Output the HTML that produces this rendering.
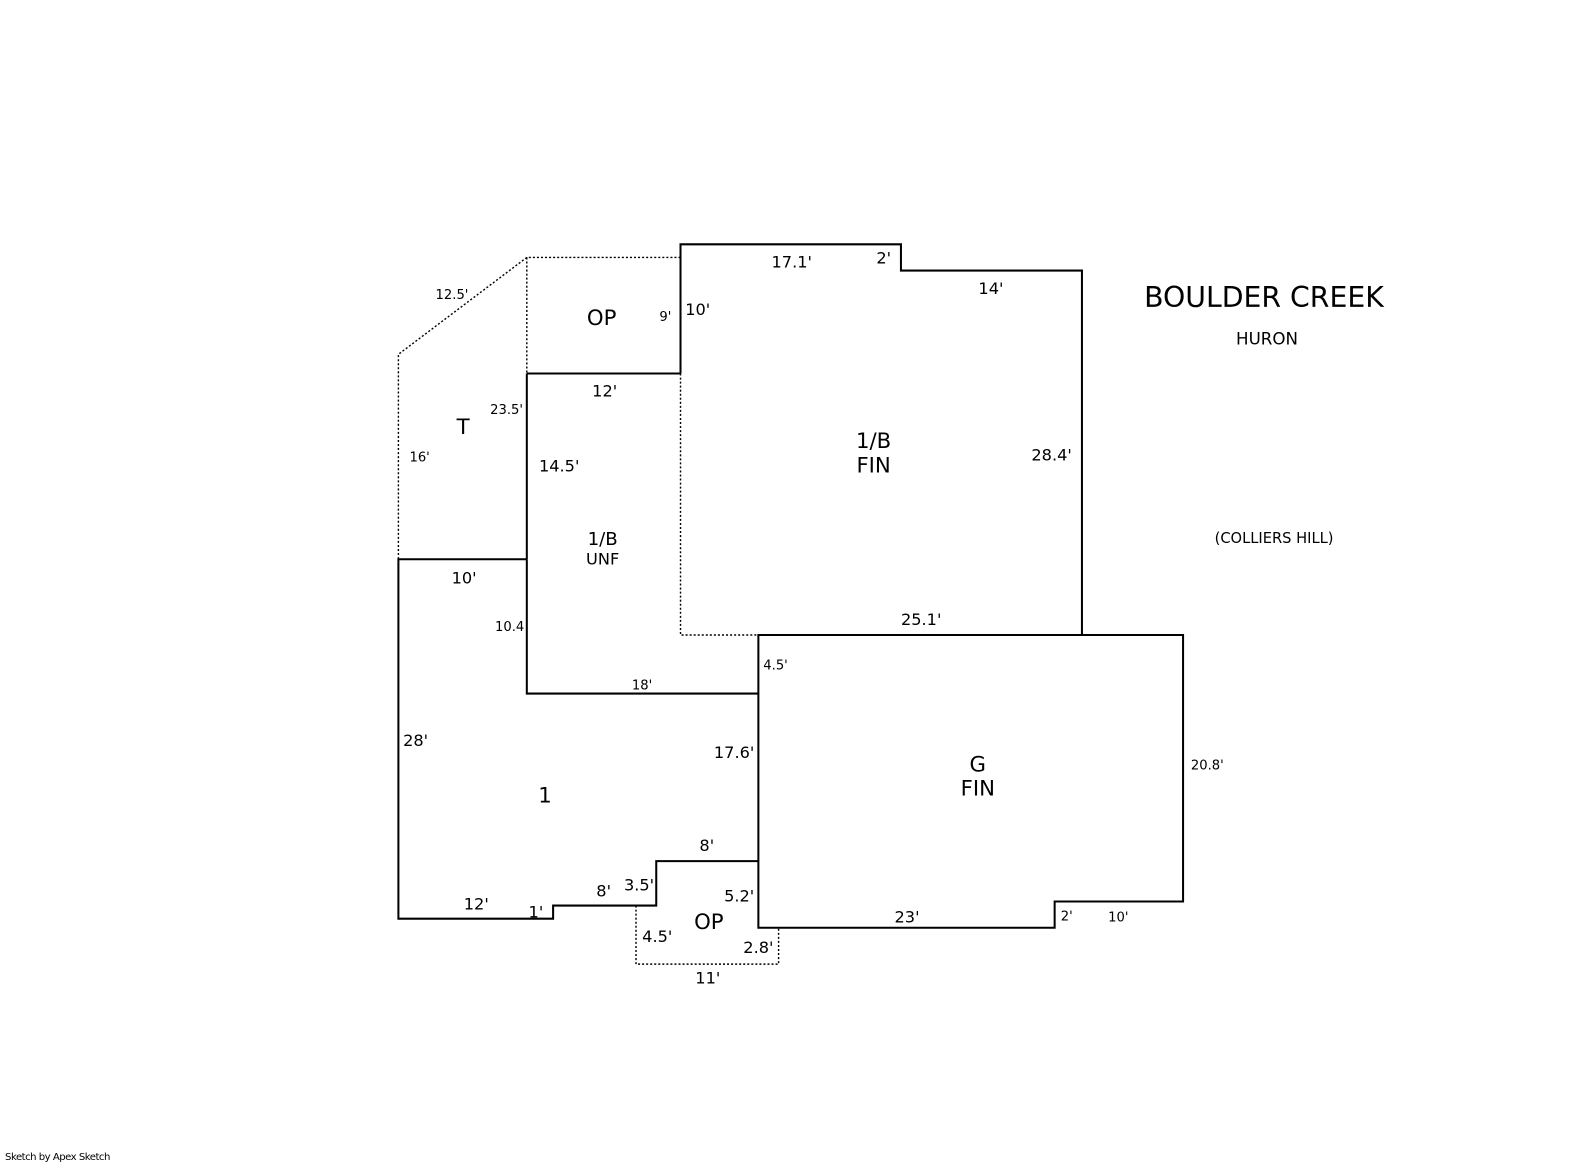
<!DOCTYPE html>
<html><head><meta charset="utf-8"><style>
html,body{margin:0;padding:0;background:#fff;}
svg{display:block;}
text{font-family:"DejaVu Sans","Liberation Sans",sans-serif;fill:#000;}
.s{font-size:13px;}
.m{font-size:16px;}
.l{font-size:21px;}
</style></head><body>
<svg width="1585" height="1163" viewBox="0 0 1567.5 1152" preserveAspectRatio="none" xmlns="http://www.w3.org/2000/svg">
<g fill="none" stroke="#000" stroke-width="2">
<polyline points="673,370 673,242 891,242 891,268 1070,268 1070,629"/>
<polyline points="521,370 673,370"/>
<polyline points="521,554 521,687 750,687"/>
<polyline points="521,370 521,554"/>
<polyline points="521,554 394,554 394,910 547,910 547,897 649,897 649,853 750,853"/>
<polygon points="750,629 1170,629 1170,893 1043,893 1043,919 750,919"/>
</g>
<g fill="none" stroke="#000" stroke-width="1.4" stroke-dasharray="2,2">
<polyline points="673,255 521,255 521,370"/>
<polyline points="521,255 394,351 394,554"/>
<polyline points="673,370 673,629 750,629"/>
<polyline points="629,897 629,955 770,955 770,919"/>
</g>
<text class="s" x="447" y="296" text-anchor="middle">12.5'</text>
<text class="l" x="595" y="322" text-anchor="middle">OP</text>
<text class="s" x="658" y="318" text-anchor="middle">9'</text>
<text class="m" x="690" y="312" text-anchor="middle">10'</text>
<text class="m" x="783" y="265" text-anchor="middle">17.1'</text>
<text class="m" x="874" y="261" text-anchor="middle">2'</text>
<text class="m" x="980" y="291" text-anchor="middle">14'</text>
<text class="m" x="598" y="393" text-anchor="middle">12'</text>
<text class="s" x="501" y="410" text-anchor="middle">23.5'</text>
<text class="l" x="458" y="430" text-anchor="middle">T</text>
<text class="s" x="415" y="457" text-anchor="middle">16'</text>
<text class="m" x="553" y="467" text-anchor="middle">14.5'</text>
<text class="l" x="864" y="444" text-anchor="middle">1/B</text>
<text class="l" x="864" y="468" text-anchor="middle">FIN</text>
<text class="m" x="1040" y="456" text-anchor="middle">28.4'</text>
<text class="m" x="596" y="540" text-anchor="middle" style="font-size:18px">1/B</text>
<text class="m" x="596" y="559" text-anchor="middle">UNF</text>
<text class="m" x="459" y="578" text-anchor="middle">10'</text>
<text class="s" x="504" y="625" text-anchor="middle">10.4</text>
<text class="m" x="911" y="619" text-anchor="middle">25.1'</text>
<text class="s" x="767" y="663" text-anchor="middle">4.5'</text>
<text class="s" x="635" y="683" text-anchor="middle">18'</text>
<text class="m" x="411" y="739" text-anchor="middle">28'</text>
<text class="m" x="726" y="751" text-anchor="middle">17.6'</text>
<text class="l" x="967" y="764" text-anchor="middle">G</text>
<text class="l" x="967" y="788" text-anchor="middle">FIN</text>
<text class="s" x="1194" y="762" text-anchor="middle">20.8'</text>
<text class="l" x="539" y="795" text-anchor="middle">1</text>
<text class="m" x="699" y="843" text-anchor="middle">8'</text>
<text class="m" x="597" y="888" text-anchor="middle">8'</text>
<text class="m" x="632" y="882" text-anchor="middle">3.5'</text>
<text class="m" x="731" y="893" text-anchor="middle">5.2'</text>
<text class="m" x="471" y="901" text-anchor="middle">12'</text>
<text class="m" x="530" y="909" text-anchor="middle">1'</text>
<text class="l" x="701" y="920" text-anchor="middle">OP</text>
<text class="m" x="650" y="933" text-anchor="middle">4.5'</text>
<text class="m" x="750" y="944" text-anchor="middle">2.8'</text>
<text class="m" x="700" y="974" text-anchor="middle">11'</text>
<text class="m" x="897" y="914" text-anchor="middle">23'</text>
<text class="s" x="1055" y="912" text-anchor="middle">2'</text>
<text class="s" x="1106" y="913" text-anchor="middle">10'</text>
<text x="1250" y="304" text-anchor="middle" style="font-size:28px">BOULDER CREEK</text>
<text x="1253" y="341" text-anchor="middle" style="font-size:16.5px">HURON</text>
<text x="1260" y="538" text-anchor="middle" style="font-size:14.5px">(COLLIERS HILL)</text>
<text x="5" y="1149" style="font-size:10px;letter-spacing:-0.5px">Sketch by Apex Sketch</text>
</svg>
</body></html>
